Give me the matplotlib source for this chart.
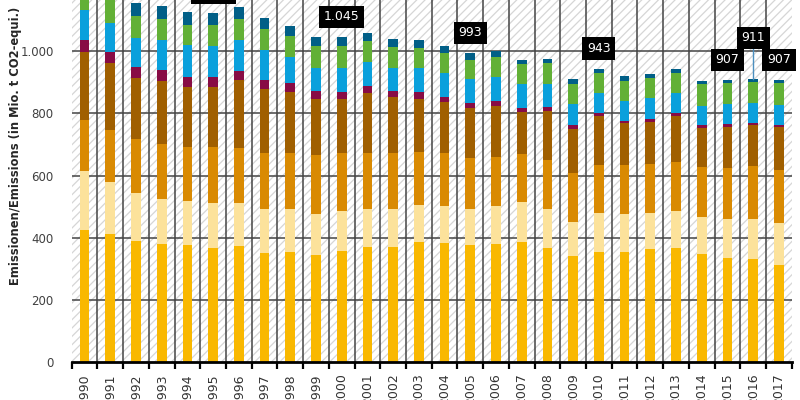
import numpy as np
import matplotlib
matplotlib.use("Agg")
import matplotlib.pyplot as plt
from matplotlib.patches import Rectangle

years = list(range(1990, 2018))

# segments from bottom to top (Mio. t CO2-equi.)
energy = [425, 412, 390, 380, 376, 368, 373, 352, 355, 344, 358, 371, 371, 387,
          384, 376, 380, 387, 368, 342, 355, 355, 364, 368, 348, 336, 333, 312]
industry = [189, 167, 155, 144, 142, 145, 140, 139, 136, 132, 128, 120, 120, 118,
            118, 118, 122, 129, 126, 110, 126, 121, 117, 119, 120, 126, 129, 134]
transport = [164, 167, 172, 177, 173, 178, 174, 180, 180, 190, 185, 180, 180, 171,
             169, 163, 158, 153, 156, 155, 153, 158, 156, 156, 160, 161, 168, 172]
households = [220, 216, 197, 204, 194, 194, 220, 206, 198, 179, 174, 195, 180, 171,
              164, 159, 165, 134, 157, 142, 157, 134, 134, 148, 126, 132, 132, 137]
fugitive = [37, 36, 36, 34, 32, 32, 28, 30, 29, 27, 24, 22, 21, 22,
            16, 16, 15, 13, 12, 13, 9, 8, 11, 10, 8, 10, 8, 9]
processes = [97, 93, 93, 96, 102, 100, 100, 96, 84, 72, 77, 78, 74, 77,
             80, 77, 77, 77, 74, 68, 64, 64, 66, 63, 61, 65, 62, 64]
agriculture = [81, 75, 70, 68, 64, 66, 68, 68, 67, 72, 71, 67, 68, 65,
               64, 62, 65, 64, 67, 63, 64, 65, 64, 66, 70, 66, 67, 68]
waste = [38, 38, 40, 41, 41, 38, 39, 34, 31, 30, 28, 26, 24, 24,
         21, 22, 18, 14, 15, 16, 15, 16, 13, 11, 11, 11, 12, 11]

label_years = [1995, 2000, 2005, 2010, 2015, 2016, 2017]

series = [energy, industry, transport, households, fugitive, processes, agriculture, waste]
colors = ["#F9B800", "#FCE29B", "#D98A02", "#A05F00", "#880C45", "#0AA0DC", "#62B036", "#015F87"]

plt.rcParams["hatch.linewidth"] = 0.9
plt.rcParams["hatch.color"] = "#d6d6d6"

fig = plt.figure(figsize=(8, 4), dpi=100)
ax = fig.add_axes([71.7 / 800, 37.7 / 400, 720 / 800, 362.3 / 400])

x = np.arange(len(years))
ax.set_xlim(-0.5, len(years) - 0.5)
ax.set_ylim(0, 1164)

# hatched background
ax.add_patch(Rectangle((0, 0), 1, 1, transform=ax.transAxes, facecolor="white",
                       edgecolor="#d6d6d6", hatch="////", linewidth=0, zorder=0))

for yv in [200, 400, 600, 800, 1000]:
    ax.axhline(yv, color="#444444", lw=1.1, zorder=1)
for b in x[:-1] + 0.5:
    ax.axvline(b, color="#444444", lw=1.1, zorder=1)

bottom = np.zeros(len(years))
for vals, col in zip(series, colors):
    ax.bar(x, vals, width=0.38, bottom=bottom, color=col, linewidth=0, zorder=2)
    bottom += np.array(vals)
totals = bottom

# value boxes
for yr in label_years:
    i = years.index(yr)
    tot = int(round(totals[i]))
    txt = f"{tot:,}".replace(",", ".")
    off = 131 if yr == 2016 else 65
    if yr == 2016:
        ax.plot([i, i], [tot, tot + off - 35], color="#4c8fbf", lw=1, zorder=3)
    ax.text(i, tot + off, txt, ha="center", va="center", color="white", fontsize=9,
            zorder=5, clip_on=False,
            bbox=dict(boxstyle="square,pad=0.38", facecolor="black", edgecolor="none"))

for s in ["left", "right", "top"]:
    ax.spines[s].set_visible(False)
ax.spines["bottom"].set_linewidth(2)
ax.spines["bottom"].set_color("black")
ax.spines["bottom"].set_zorder(4)

ax.set_yticks([0, 200, 400, 600, 800, 1000])
ax.set_yticklabels(["0", "200", "400", "600", "800", "1.000"])
ax.tick_params(axis="y", length=0, pad=13, labelsize=8.5, labelcolor="#404040")

ax.set_xticks(x)
ax.set_xticklabels([str(y) for y in years], rotation=90)
ax.set_xticks(np.arange(-0.5, len(years)), minor=True)
ax.tick_params(axis="x", which="major", length=0, pad=8, labelsize=9, labelcolor="#333333")
ax.tick_params(axis="x", which="minor", length=5, width=1.6, color="black")

fig.text(15.5 / 800, 115 / 400, "Emissionen/Emissions (in Mio. t CO2-equi.)", rotation=90,
         ha="center", va="bottom", fontsize=8.3, fontweight="bold", color="#262626")

fig.savefig("out.png", dpi=100)
